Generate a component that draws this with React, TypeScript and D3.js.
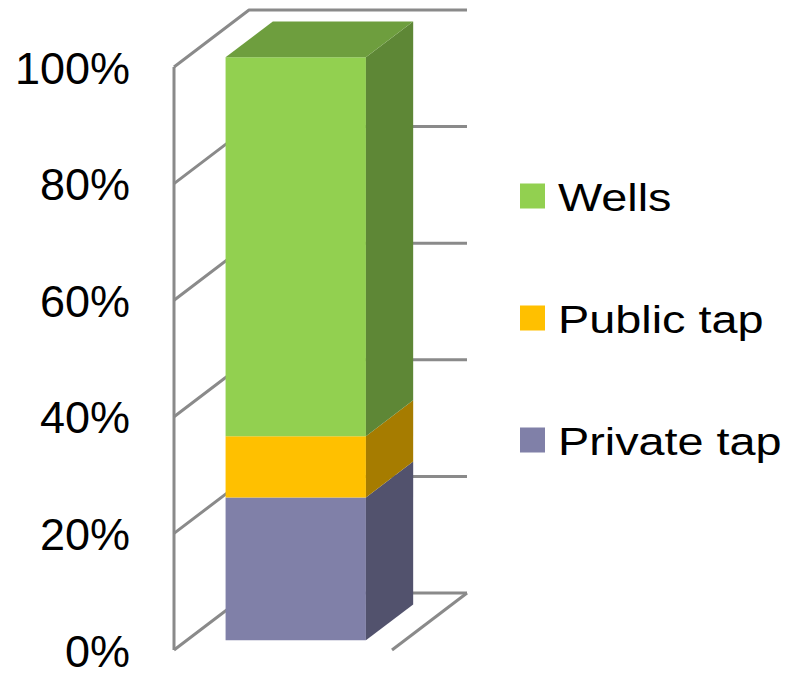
import React, { useEffect, useRef } from "react";
import * as d3 from "d3";

// single stacked 3D column, values in percent
const categories = ["Water source"];
const seriesNames = ["Private tap", "Public tap", "Wells"];
const seriesValues = [24.5, 10.5, 65];
const tickValues = [0, 20, 40, 60, 80, 100];
const tickLabels = ["0%", "20%", "40%", "60%", "80%", "100%"];

const frontColors = ["#8080a8", "#ffc000", "#92d050"];
const sideColors = ["#52526d", "#a67c00", "#5e8736"];
const topColors = ["#6a6a8c", "#d9a300", "#6e9e3e"];

const width = 790;
const height = 674;

export default function App() {
  const ref = useRef<SVGSVGElement>(null);

  useEffect(() => {
    const svg = d3.select(ref.current);
    svg.selectAll("*").remove();

    const plotLeft = 174;
    const plotRight = 392;
    const depthX = 75;
    const depthY = -57;
    const barZ0 = 0.17;
    const barZ1 = 0.8;

    const yScale = d3.scaleLinear().domain([0, 100]).range([650, 67]);
    const xScale = d3.scaleBand().domain(categories).range([plotLeft, plotRight]).padding(0.2167);

    // project a point (x on front plane, value, depth fraction) to screen
    const p = (x: number, v: number, z: number): [number, number] => [x + z * depthX, yScale(v) + z * depthY];
    const pts = (arr: [number, number][]) => arr.map(d => d.join(",")).join(" ");

    const lineColor = "#8a8a8a";
    const grid = svg.append("g");
    // side wall front edge
    grid.append("line")
      .attr("x1", plotLeft).attr("x2", plotLeft)
      .attr("y1", yScale(0)).attr("y2", yScale(100))
      .attr("stroke", lineColor).attr("stroke-width", 3);

    grid.selectAll("polyline.grid").data(tickValues)
      .join("polyline")
      .attr("class", "grid")
      .attr("fill", "none")
      .attr("stroke", lineColor)
      .attr("stroke-width", 3)
      .attr("stroke-linejoin", "round")
      .attr("points", d => pts([p(plotLeft, d, 0), p(plotLeft, d, 1), p(plotRight, d, 1)]));

    // floor right edge
    grid.append("line")
      .attr("x1", p(plotRight, 0, 1)[0]).attr("y1", p(plotRight, 0, 1)[1])
      .attr("x2", p(plotRight, 0, 0)[0]).attr("y2", p(plotRight, 0, 0)[1])
      .attr("stroke", lineColor).attr("stroke-width", 3);

    const row: any = { cat: categories[0] };
    seriesNames.forEach((s, i) => (row[s] = seriesValues[i]));
    const stacked = d3.stack().keys(seriesNames)([row]);

    const x0 = xScale(categories[0]) as number;
    const x1 = x0 + xScale.bandwidth();

    const bars = svg.append("g");
    stacked.forEach((layer, i) => {
      const [lo, hi] = layer[0];
      const g = bars.append("g");
      // front face
      g.append("polygon")
        .attr("points", pts([p(x0, lo, barZ0), p(x1, lo, barZ0), p(x1, hi, barZ0), p(x0, hi, barZ0)]))
        .attr("fill", frontColors[i]);
      // right side face
      g.append("polygon")
        .attr("points", pts([p(x1, lo, barZ0), p(x1, lo, barZ1), p(x1, hi, barZ1), p(x1, hi, barZ0)]))
        .attr("fill", sideColors[i]);
      if (i === stacked.length - 1) {
        g.append("polygon")
          .attr("points", pts([p(x0, hi, barZ0), p(x1, hi, barZ0), p(x1, hi, barZ1), p(x0, hi, barZ1)]))
          .attr("fill", topColors[i]);
      }
    });

    // y axis labels
    svg.append("g").selectAll("text").data(tickValues)
      .join("text")
      .attr("x", 130)
      .attr("y", d => yScale(d) + 16.5)
      .attr("text-anchor", "end")
      .style("font-family", "Liberation Sans, Arial, sans-serif")
      .style("font-size", "45px")
      .attr("fill", "#000")
      .text((d, i) => tickLabels[i]);

    // legend, reversed order
    const legendNames = seriesNames.slice().reverse();
    const legendColors = frontColors.slice().reverse();
    const legendY = d3.scalePoint().domain(legendNames).range([196, 440]);
    const legend = svg.append("g").selectAll("g").data(legendNames)
      .join("g")
      .attr("transform", d => `translate(520, ${legendY(d)})`);
    legend.append("rect")
      .attr("x", 0).attr("y", -12.5)
      .attr("width", 25).attr("height", 25)
      .attr("fill", (d, i) => legendColors[i]);
    legend.append("text")
      .attr("transform", "translate(38, 15) scale(1.2, 1)")
      .style("font-family", "Liberation Sans, Arial, sans-serif")
      .style("font-size", "39px")
      .attr("fill", "#000")
      .text(d => d);
  }, []);

  return (
    <svg ref={ref} width={width} height={height}
      style={{ position: "absolute", left: 0, top: 0, background: "#fff" }} />
  );
}
